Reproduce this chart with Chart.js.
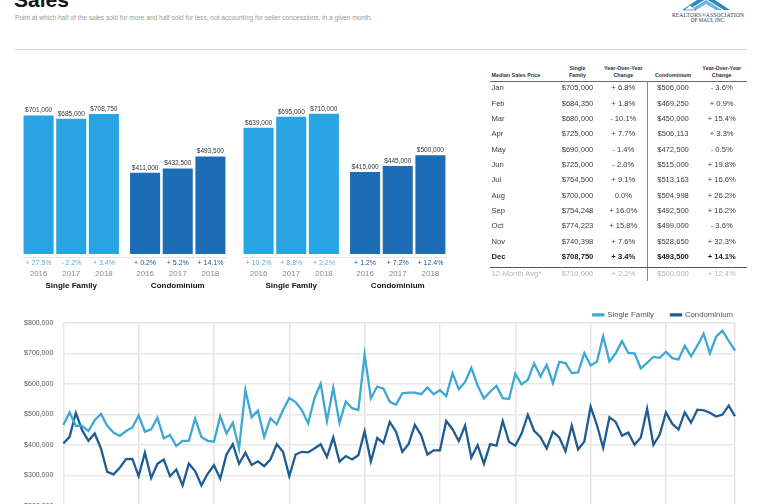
<!DOCTYPE html>
<html><head><meta charset="utf-8">
<script src="https://cdn.jsdelivr.net/npm/chart.js@4.4.1/dist/chart.umd.min.js"></script>
<style>
html,body{margin:0;padding:0;width:765px;height:504px;overflow:hidden;background:#fff;font-family:"Liberation Sans",Arial,sans-serif;}
.abs{position:absolute;white-space:nowrap;}
#title{left:14px;top:-11px;font-size:21px;font-weight:bold;color:#151515;line-height:21px;}
#sub{left:15px;top:14px;font-size:6.6px;line-height:8px;color:#9a9a9a;}
#rule{left:15px;top:49px;width:732px;height:1px;background:#d4d4d4;}
canvas{position:absolute;}
.cell{position:absolute;white-space:nowrap;height:10px;line-height:10px;color:#3a3a3a;font-size:7.6px;}
.hd{font-size:5.4px;font-weight:bold;color:#333;height:7px;line-height:7px;}
</style></head>
<body>
<div id="title" class="abs">Sales</div>
<div id="sub" class="abs">Point at which half of the sales sold for more and half sold for less, not accounting for seller concessions, in a given month.</div>
<div id="rule" class="abs"></div>
<svg class="abs" style="left:668px;top:0px" width="84" height="24" viewBox="668 0 84 24">
  <polygon points="682,10 706,-6 730,10 724,10 706,-1 688,10" fill="#2f86c6"/>
  <polygon points="690,10 706,0 722,10 716,10 706,4 696,10" fill="#6fb3e0"/>
  <polygon points="684,10 690,5 696,10" fill="#ffffff" stroke="#2f86c6" stroke-width="0.8"/>
  <text x="708" y="16.5" font-family="Liberation Serif" font-size="5.6" fill="#24395c" text-anchor="middle" letter-spacing="0.15">REALTORS®ASSOCIATION</text>
  <text x="708" y="21.5" font-family="Liberation Serif" font-size="5.2" fill="#24395c" text-anchor="middle">OF MAUI, INC.</text>
</svg>
<canvas id="bar1" width="233" height="210" style="left:8px;top:86px"></canvas>
<canvas id="bar2" width="233" height="210" style="left:227.5px;top:86px"></canvas>
<div id="table"></div>
<canvas id="line" width="765" height="226" style="left:0;top:294px"></canvas>
<script>
// ---------- bar chart data ----------
const barYears = ['2016', '2017', '2018'];
const barGroups = ['Single Family', 'Condominium'];
const decSF = [701000, 685000, 708750];
const decCondo = [411000, 432500, 493500];
const decSFChange = ['+ 27.5%', '- 2.2%', '+ 3.4%'];
const decCondoChange = ['+ 0.2%', '+ 5.2%', '+ 14.1%'];
const ytdSF = [639000, 695000, 710000];
const ytdCondo = [415000, 445000, 500000];
const ytdSFChange = ['+ 10.2%', '+ 8.8%', '+ 2.2%'];
const ytdCondoChange = ['+ 1.2%', '+ 7.2%', '+ 12.4%'];

// ---------- table data ----------
const tableMonths = ['Jan','Feb','Mar','Apr','May','Jun','Jul','Aug','Sep','Oct','Nov','Dec'];
const tableSF = ['$705,000','$684,350','$680,000','$725,000','$690,000','$725,000','$764,500','$700,000','$754,248','$774,223','$740,398','$708,750'];
const tableSFChange = ['+ 6.8%','+ 1.8%','- 10.1%','+ 7.7%','- 1.4%','- 2.0%','+ 9.1%','0.0%','+ 16.0%','+ 15.8%','+ 7.6%','+ 3.4%'];
const tableCondo = ['$506,000','$469,250','$450,000','$506,113','$472,500','$515,000','$513,163','$504,998','$492,500','$499,000','$528,650','$493,500'];
const tableCondoChange = ['- 3.6%','+ 0.9%','+ 15.4%','+ 3.3%','- 0.5%','+ 19.8%','+ 16.6%','+ 26.2%','+ 16.2%','- 3.6%','+ 32.3%','+ 14.1%'];
const tableAvg = ['12-Month Avg*', '$710,000', '+ 2.2%', '$500,000', '+ 12.4%'];

// ---------- line chart data (monthly, Jan 2010 - Dec 2018) ----------
const lineYears = ['2010','2011','2012','2013','2014','2015','2016','2017','2018'];
const lineMonths = ['Jan','Feb','Mar','Apr','May','Jun','Jul','Aug','Sep','Oct','Nov','Dec'];
const sfLine = [
  465000, 506000, 462000, 462000, 445000, 481000, 501000, 462000, 440000, 429000, 445000, 457000,
  496000, 443000, 451000, 489000, 421000, 432000, 396000, 413000, 413000, 486000, 426000, 413000,
  410000, 494000, 437000, 472000, 388000, 580000, 490000, 512000, 426000, 487000, 467000, 514000,
  553000, 540000, 514000, 470000, 552000, 600000, 478000, 587000, 472000, 542000, 520000, 514000,
  696000, 552000, 591000, 584000, 541000, 531000, 569000, 571000, 571000, 566000, 588000, 566000,
  579000, 560000, 635000, 582000, 606000, 652000, 594000, 552000, 574000, 593000, 553000, 550000,
  633000, 598000, 613000, 667000, 624000, 662000, 602000, 672000, 668000, 635000, 637000, 701000,
  660000, 672000, 756000, 673000, 700000, 740000, 701000, 700000, 650000, 669000, 688000, 685000,
  705000, 684350, 680000, 725000, 690000, 725000, 764500, 700000, 754248, 774223, 740398, 708750
];
const condoLine = [
  404000, 426000, 505000, 448000, 413000, 437000, 388000, 311000, 303000, 325000, 353000, 354000,
  297000, 374000, 291000, 338000, 352000, 297000, 319000, 267000, 338000, 314000, 267000, 305000,
  333000, 289000, 368000, 402000, 338000, 374000, 334000, 346000, 330000, 352000, 402000, 377000,
  297000, 368000, 377000, 375000, 388000, 402000, 360000, 424000, 345000, 363000, 352000, 366000,
  444000, 345000, 422000, 406000, 475000, 443000, 377000, 402000, 465000, 432000, 368000, 382000,
  382000, 478000, 451000, 412000, 463000, 358000, 399000, 338000, 402000, 397000, 478000, 410000,
  397000, 437000, 498000, 446000, 426000, 388000, 443000, 424000, 379000, 463000, 385000, 411000,
  525000, 465000, 390000, 490000, 475000, 430000, 440000, 400000, 424000, 518000, 400000, 432500,
  506000, 469250, 450000, 506113, 472500, 515000, 513163, 504998, 492500, 499000, 528650, 493500
];

const FONT = '"Liberation Sans", Arial, sans-serif';
Chart.defaults.font.family = FONT;
const sfBarColor = '#28a4e2';
const condoBarColor = '#1d6db6';
const sfLineColor = '#3ea8d3';
const condoLineColor = '#1f5c94';

const barText = {
  id: 'barText',
  afterDatasetsDraw(chart, args, opts) {
    const ctx = chart.ctx, xs = chart.scales.x, area = chart.chartArea;
    ctx.save();
    ctx.strokeStyle = '#e4e4e4'; ctx.lineWidth = 1;
    ctx.beginPath(); ctx.moveTo(area.left + 4, area.bottom + 3.5); ctx.lineTo(area.right - 4, area.bottom + 3.5); ctx.stroke();
    ctx.textAlign = 'center'; ctx.textBaseline = 'middle';
    chart.data.datasets.forEach((ds, i) => {
      chart.getDatasetMeta(i).data.forEach((bar, j) => {
        ctx.font = '6.5px ' + FONT; ctx.fillStyle = '#333';
        ctx.fillText('$' + ds.data[j].toLocaleString('en-US'), bar.x, bar.y - 5);
        ctx.font = '7px ' + FONT; ctx.fillStyle = opts.changeColors[j];
        ctx.fillText(opts.changes[j][i], bar.x, area.bottom + 9);
        ctx.font = '8px ' + FONT; ctx.fillStyle = '#8a8a8a';
        ctx.fillText(ds.label, bar.x, area.bottom + 20);
      });
    });
    ctx.font = 'bold 8px ' + FONT; ctx.fillStyle = '#111';
    chart.data.labels.forEach((l, j) => ctx.fillText(l, xs.getPixelForValue(j), area.bottom + 32));
    ctx.restore();
  }
};

function makeBar(id, sf, condo, sfChg, condoChg) {
  new Chart(document.getElementById(id), {
    type: 'bar',
    data: {
      labels: barGroups,
      datasets: barYears.map((yr, i) => ({
        label: yr,
        data: [sf[i], condo[i]],
        backgroundColor: [sfBarColor, condoBarColor],
        borderWidth: 0
      }))
    },
    options: {
      responsive: false, animation: false,
      layout: { padding: { left: 10, right: 10, top: 10, bottom: 42 } },
      categoryPercentage: 0.92, barPercentage: 0.92,
      scales: {
        x: { display: false },
        y: { display: false, min: 0, max: 800000 }
      },
      plugins: {
        legend: { display: false }, tooltip: { enabled: false },
        barText: { changes: [sfChg, condoChg], changeColors: ['#5aaedb', '#1c548e'] }
      }
    },
    plugins: [barText]
  });
}
makeBar('bar1', decSF, decCondo, decSFChange, decCondoChange);
makeBar('bar2', ytdSF, ytdCondo, ytdSFChange, ytdCondoChange);

// ---------- table ----------
const tbl = document.getElementById('table');
function cell(text, x, y, align, cls, style) {
  const d = document.createElement('div');
  d.className = cls || 'cell';
  d.textContent = text;
  if (align === 'center') { d.style.left = (x - 40) + 'px'; d.style.width = '80px'; d.style.textAlign = 'center'; }
  else { d.style.left = x + 'px'; }
  const h = cls === 'cell hd' ? 7 : 10;
  d.style.top = (y - h / 2) + 'px';
  if (style) Object.assign(d.style, style);
  tbl.appendChild(d);
}
function line(x, y, w, h, color) {
  const d = document.createElement('div');
  Object.assign(d.style, { position: 'absolute', left: x + 'px', top: y + 'px', width: w + 'px', height: h + 'px', background: color });
  tbl.appendChild(d);
}
const colX = [491.5, 577.5, 623.3, 673, 721.7];
cell('Median Sales Price', colX[0], 75.7, 'left', 'cell hd');
cell('Single', colX[1], 68.6, 'center', 'cell hd'); cell('Family', colX[1], 75.7, 'center', 'cell hd');
cell('Year-Over-Year', colX[2], 68.6, 'center', 'cell hd'); cell('Change', colX[2], 75.7, 'center', 'cell hd');
cell('Condominium', colX[3], 75.7, 'center', 'cell hd');
cell('Year-Over-Year', colX[4], 68.6, 'center', 'cell hd'); cell('Change', colX[4], 75.7, 'center', 'cell hd');
line(490, 80.5, 257, 1, '#6a6a6a');
line(646.5, 81, 1, 200, '#8a8a8a');
tableMonths.forEach((m, i) => {
  const y = 88.3 + i * 15.35;
  const st = i === 11 ? { fontWeight: 'bold', color: '#222' } : null;
  cell(m, colX[0], y, 'left', 'cell', st);
  cell(tableSF[i], colX[1], y, 'center', 'cell', st);
  cell(tableSFChange[i], colX[2], y, 'center', 'cell', st);
  cell(tableCondo[i], colX[3], y, 'center', 'cell', st);
  cell(tableCondoChange[i], colX[4], y, 'center', 'cell', st);
});
line(490, 266.5, 257, 1, '#555');
tableAvg.forEach((t, k) => cell(t, colX[k], 274, k === 0 ? 'left' : 'center', 'cell', { color: '#b4b4b4' }));

// ---------- line chart ----------
const monthLabels = [];
lineYears.forEach(y => lineMonths.forEach(m => monthLabels.push(m + ' ' + y)));

const legendTrim = {
  id: 'legendTrim',
  beforeLayout(chart) {
    const lg = chart.legend;
    if (lg && !lg._trimmed) {
      const f = lg.fit;
      lg.fit = function () { f.call(this); this.height -= 6; };
      lg._trimmed = true;
    }
  },
  afterLayout(chart) {
    const lg = chart.legend;
    if (lg) { lg.left += 15; lg.right += 15; }
  }
};

new Chart(document.getElementById('line'), {
  type: 'line',
  data: {
    labels: monthLabels,
    datasets: [
      { label: 'Single Family', data: sfLine, borderColor: sfLineColor, backgroundColor: sfLineColor, borderWidth: 2.3, pointRadius: 0, tension: 0 },
      { label: 'Condominium', data: condoLine, borderColor: condoLineColor, backgroundColor: condoLineColor, borderWidth: 2.3, pointRadius: 0, tension: 0 }
    ]
  },
  options: {
    responsive: false, animation: false,
    layout: { padding: { left: 0, right: 30, top: 0, bottom: 5 } },
    scales: {
      x: {
        type: 'category', offset: false,
        ticks: { display: false, autoSkip: false },
        grid: { drawTicks: false, lineWidth: 1.5, color: c => (c.index % 12 === 0 || c.index === monthLabels.length - 1) ? '#e4e4e4' : 'rgba(0,0,0,0)' },
        border: { display: false }
      },
      y: {
        min: 200000, max: 800000,
        afterFit(s) { s.width = 63.3; },
        ticks: { stepSize: 100000, padding: 10, color: '#555', font: { size: 7 }, callback: v => '$' + Number(v).toLocaleString('en-US') },
        grid: { drawTicks: false, lineWidth: 1.5, color: '#e8e8e8' },
        border: { display: false }
      }
    },
    plugins: {
      tooltip: { enabled: false },
      legend: {
        position: 'top', align: 'end',
        labels: { boxWidth: 10, boxHeight: 1, padding: 17, color: '#555', font: { size: 7.8 } }
      }
    }
  },
  plugins: [legendTrim]
});
</script>
</body></html>
